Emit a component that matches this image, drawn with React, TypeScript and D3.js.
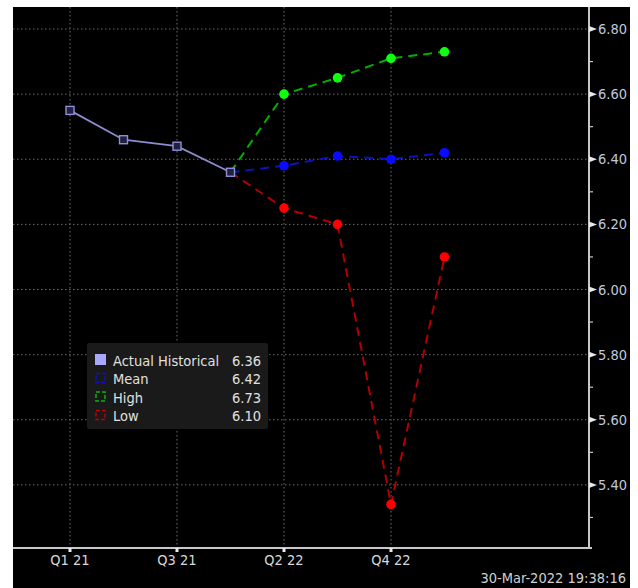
import React from "react";
import * as d3 from "d3";

const periods = ["Q1 21", "Q2 21", "Q3 21", "Q4 21", "Q2 22", "Q3 22", "Q4 22", "Q1 23"];
const tickLabels = ["Q1 21", "", "Q3 21", "", "Q2 22", "", "Q4 22", ""];
const actual = [6.55, 6.46, 6.44, 6.36];
const meanVals = [6.36, 6.38, 6.41, 6.40, 6.42];
const highVals = [6.36, 6.60, 6.65, 6.71, 6.73];
const lowVals = [6.36, 6.25, 6.20, 5.34, 6.10];
const yTicks = [5.4, 5.6, 5.8, 6.0, 6.2, 6.4, 6.6, 6.8];
const yMinor = [5.3, 5.5, 5.7, 5.9, 6.1, 6.3, 6.5, 6.7];
const legendNames = ["Actual Historical", "Mean", "High", "Low"];
const legendValues = ["6.36", "6.42", "6.73", "6.10"];
const timestamp = "30-Mar-2022 19:38:16";

const W = 638, H = 588;
const FONT = "'DejaVu Sans Condensed', 'DejaVu Sans', sans-serif";

export default function App() {
  const plotLeft = 13, plotRight = 589, plotTop = 7, plotBottom = 548;
  const x = d3.scaleLinear().domain([0, periods.length - 1]).range([70, 70 + 53.5 * 7]);
  const y = d3.scaleLinear().domain([5.2, 6.8]).range([550, 29]);
  const line = d3.line<[number, number]>().x((d) => x(d[0])).y((d) => y(d[1]));
  const fcStart = actual.length - 1;
  const toPts = (arr: number[], off: number) => arr.map((v, i) => [i + off, v] as [number, number]);
  const series = [
    { vals: meanVals, line: "#1010c0", dot: "#0a0aff" },
    { vals: lowVals, line: "#b00000", dot: "#ff0000" },
    { vals: highVals, line: "#00b000", dot: "#10ff10" },
  ];
  const legendSw = ["#a8a8ff", "#1010d0", "#10b010", "#c00000"];
  return (
    <svg width={W} height={H} style={{ position: "absolute", left: 0, top: 0, background: "#fff" }}>
      <rect x={plotLeft} y={plotTop} width={630 - plotLeft} height={H - plotTop} fill="#000" />
      {yTicks.map((t) => (
        <line key={"hg" + t} x1={plotLeft} x2={plotRight} y1={y(t)} y2={y(t)} stroke="#6a6a6a" strokeDasharray="1.5,2.5" strokeWidth={1} />
      ))}
      {tickLabels.map((l, i) =>
        l ? <line key={"vg" + i} x1={x(i)} x2={x(i)} y1={plotTop} y2={plotBottom} stroke="#6a6a6a" strokeDasharray="1.5,2.5" strokeWidth={1} /> : null
      )}
      <line x1={plotLeft} x2={plotRight + 3} y1={plotBottom} y2={plotBottom} stroke="#c8c8c8" strokeWidth={2} />
      <line x1={plotRight} x2={plotRight} y1={plotTop} y2={plotBottom} stroke="#c8c8c8" strokeWidth={2} />
      {yMinor.map((t) => (
        <line key={"mn" + t} x1={plotRight} x2={plotRight + 4} y1={y(t)} y2={y(t)} stroke="#c8c8c8" strokeWidth={1.2} />
      ))}
      {yTicks.map((t) => (
        <g key={"yt" + t}>
          <path d={`M${plotRight},${y(t) - 3} L${plotRight + 8},${y(t)} L${plotRight},${y(t) + 3} Z`} fill="#e8e8e8" />
          <text x={plotRight + 9} y={y(t) + 5} fill="#c0c8dc" fontFamily={FONT} fontSize={14.5}>{t.toFixed(2)}</text>
        </g>
      ))}
      {tickLabels.map((l, i) =>
        l ? (
          <g key={"xt" + i}>
            <rect x={x(i) - 1.5} y={plotBottom} width={3} height={4} fill="#e8e8e8" />
            <text x={x(i)} y={plotBottom + 17} textAnchor="middle" fill="#d8d8d8" fontFamily={FONT} fontSize={14.5}>{l}</text>
          </g>
        ) : null
      )}
      {series.map((s, k) => (
        <path key={"fl" + k} d={line(toPts(s.vals, fcStart)) || ""} fill="none" stroke={s.line} strokeWidth={2} strokeDasharray="9,6" />
      ))}
      {series.map((s, k) =>
        s.vals.slice(1).map((v, i) => (
          <circle key={"fd" + k + "-" + i} cx={x(i + 1 + fcStart)} cy={y(v)} r={4.8} fill={s.dot} />
        ))
      )}
      <path d={line(toPts(actual, 0)) || ""} fill="none" stroke="#8c8cd0" strokeWidth={1.8} />
      {actual.map((v, i) => (
        <rect key={"a" + i} x={x(i) - 4} y={y(v) - 4} width={8} height={8} fill="#202040" stroke="#9090d8" strokeWidth={1.4} />
      ))}
      <rect x={87} y={343} width={181} height={86} fill="#1a1a1a" rx={2} />
      {legendNames.map((n, i) => {
        const ly = 360 + i * 18.5;
        return (
          <g key={"lg" + i}>
            {i === 0 ? (
              <rect x={95} y={ly - 6} width={11} height={11} fill={legendSw[0]} />
            ) : (
              <rect x={96} y={ly - 5} width={9} height={9} fill="none" stroke={legendSw[i]} strokeWidth={1.5} strokeDasharray="4,2" />
            )}
            <text x={113} y={ly + 5.5} fill="#e0e0e0" fontFamily={FONT} fontSize={14.5}>{n}</text>
            <text x={261} y={ly + 5.5} textAnchor="end" fill="#e0e0e0" fontFamily={FONT} fontSize={14.5}>{legendValues[i]}</text>
          </g>
        );
      })}
      <text x={626} y={583} textAnchor="end" fill="#d0d0d0" fontFamily={FONT} fontSize={14.5}>{timestamp}</text>
    </svg>
  );
}
